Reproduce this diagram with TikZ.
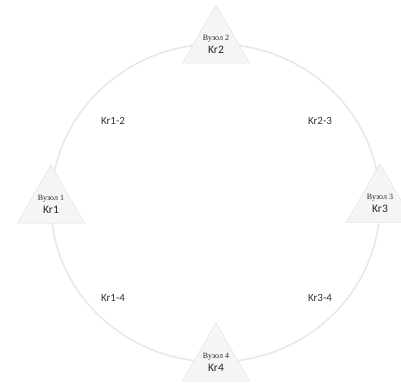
\documentclass[tikz,border=0pt]{standalone}
\usepackage{fontspec}
\setmainfont{Liberation Serif}
\newfontfamily\krfont{Carlito}
\usetikzlibrary{shapes.geometric,backgrounds}

\begin{document}
\begin{tikzpicture}[x=1pt,y=1pt,
 vz/.style={draw=black!13,fill=black!4,regular polygon,regular polygon sides=3,minimum size=78pt,inner sep=0pt,align=center,text=black!85,font=\fontsize{8}{9}\selectfont},
 kr/.style={text=black!80,font=\krfont\fontsize{11}{12}\selectfont},
 ln/.style={draw=black!9,line width=1.6pt}]
\useasboundingbox (0,0) rectangle (401,389);
\node[vz] (v1) at (51,185) {Вузол 1\\[3pt]\krfont\fontsize{11.5}{13}\selectfont Kr1};
\node[vz] (v2) at (216,345) {Вузол 2\\[3pt]\krfont\fontsize{11.5}{13}\selectfont Kr2};
\node[vz] (v3) at (380,186) {Вузол 3\\[3pt]\krfont\fontsize{11.5}{13}\selectfont Kr3};
\node[vz] (v4) at (216,27) {Вузол 4\\[3pt]\krfont\fontsize{11.5}{13}\selectfont Kr4};
% ring behind the nodes
\begin{scope}[on background layer]
\draw[ln] (v1.center) to[out=90,in=180] (v2.center);
\draw[ln] (v2.center) to[out=0,in=90] (v3.center);
\draw[ln] (v3.center) to[out=-90,in=0] (v4.center);
\draw[ln] (v4.center) to[out=180,in=-90] (v1.center);
\end{scope}
\node[kr] (k12) at (113,268) {Kr1-2};
\node[kr] (k23) at (320,268) {Kr2-3};
\node[kr] (k14) at (113,91) {Kr1-4};
\node[kr] (k34) at (320,91) {Kr3-4};
\end{tikzpicture}
\end{document}
